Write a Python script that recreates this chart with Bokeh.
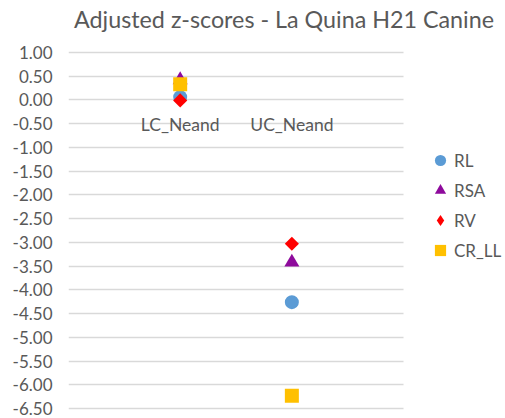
from bokeh.plotting import figure
from bokeh.models import Range1d, FixedTicker, NumeralTickFormatter, Legend, LegendItem, Title, Grid
from bokeh.core.properties import value
from bokeh.embed import file_html
from bokeh.resources import INLINE

# ---- data ----
categories = ["LC_Neand", "UC_Neand"]
cat_x = [1, 2]
RL = [0.06, -4.26]
RSA = [0.42, -3.42]
RV = [-0.01, -3.03]
CR_LL = [0.33, -6.23]
y_ticks = [1.0, 0.5, 0.0, -0.5, -1.0, -1.5, -2.0, -2.5, -3.0, -3.5,
           -4.0, -4.5, -5.0, -5.5, -6.0, -6.5]
title_text = "Adjusted z-scores - La Quina H21  Canine"

FONT = "Lato"
TXT = "#595959"

p = figure(width=505, height=418, output_backend="svg", toolbar_location=None,
           x_range=Range1d(0, 3.913), y_range=Range1d(-6.711, 1.421),
           x_axis_location=None, min_border_left=68, min_border_right=0,
           min_border_bottom=0, min_border_top=32)
p.outline_line_color = None
p.background_fill_color = "white"
p.border_fill_color = "white"

p.title = Title(text=title_text, align="center", offset=-9,
                vertical_align="bottom", standoff=0,
                text_font=FONT, text_font_size="23.3px", text_color=TXT,
                text_font_style="normal")

ax = p.yaxis[0]
ax.ticker = FixedTicker(ticks=y_ticks)
ax.formatter = NumeralTickFormatter(format="0.00")
ax.axis_line_color = None
ax.major_tick_line_color = None
ax.minor_tick_line_color = None
ax.major_tick_out = 0
ax.major_tick_in = 0
ax.major_label_standoff = 16
ax.major_label_text_font = FONT
ax.major_label_text_font_size = "17px"
ax.major_label_text_color = TXT

p.xgrid.visible = False
yg = p.ygrid[0]
yg.ticker = FixedTicker(ticks=y_ticks)
yg.grid_line_color = "#d9d9d9"
yg.grid_line_width = 1.3
if "cross_bounds" in Grid.properties():
    yg.cross_bounds = (0, 3)

# category labels at y = 0
p.text(x=cat_x, y=[0] * len(cat_x), text=categories, text_align="center",
       text_baseline="middle", y_offset=25, text_font=value(FONT),
       text_font_size="17.5px", text_color=TXT)

r1 = p.scatter(cat_x, RL, marker="circle", size=14, fill_color="#5b9bd5", line_color=None)
r2 = p.scatter(cat_x, RSA, marker="triangle", size=15, fill_color="#8e0a9c", line_color=None)
r3 = p.scatter(cat_x, RV, marker="square", size=10, angle=0.785398, fill_color="#ff0000", line_color=None)
r4 = p.scatter(cat_x, CR_LL, marker="square", size=14, fill_color="#ffc000", line_color=None)
# legend swatch for RV (the legend ignores marker rotation)
r3_key = p.scatter(cat_x, RV, marker="diamond", size=0, fill_color="#ff0000", line_color=None)

legend = Legend(items=[LegendItem(label="RL", renderers=[r1]),
                       LegendItem(label="RSA", renderers=[r2]),
                       LegendItem(label="RV", renderers=[r3_key]),
                       LegendItem(label="CR_LL", renderers=[r4])],
                location=(358, 153), padding=0, margin=0, spacing=0,
                glyph_width=28, glyph_height=30, label_height=30,
                label_standoff=0, border_line_color=None,
                background_fill_alpha=0, label_text_font=FONT,
                label_text_font_size="17px", label_text_color=TXT)
p.add_layout(legend, "center")

open("out.html", "w").write(file_html(p, INLINE))
